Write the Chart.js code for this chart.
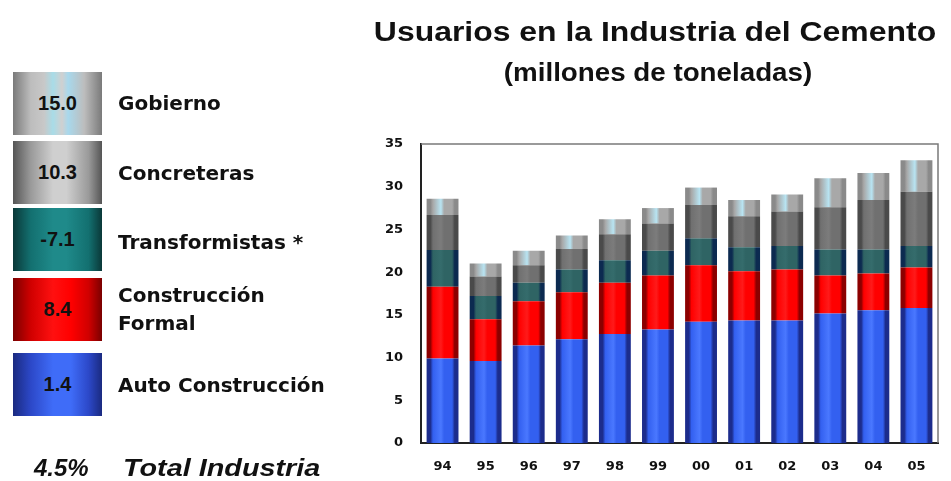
<!DOCTYPE html>
<html>
<head>
<meta charset="utf-8">
<script src="https://cdn.jsdelivr.net/npm/chart.js@4.4.1/dist/chart.umd.min.js"></script>
<style>
    body { margin: 0; background: #fff; }
    #wrap { position: relative; width: 951px; height: 481px; overflow: hidden; }
    #chart { position: absolute; left: 0; top: 0; }
    .title { position: absolute; width: 600px; text-align: center; font-family: "Liberation Sans", Arial, sans-serif; font-weight: bold; color: #111; line-height: 1; white-space: nowrap; }
    .box { position: absolute; left: 13px; width: 89px; height: 63px; display: flex; align-items: center; justify-content: center;
           font-family: "Liberation Sans", Arial, sans-serif; font-weight: bold; font-size: 20px; color: #111; box-sizing: border-box; }
    .lbl { position: absolute; left: 118px; font-family: "DejaVu Sans", Verdana, sans-serif; font-weight: bold; font-size: 20px; color: #111; line-height: 28px; white-space: nowrap; }
    .total { position: absolute; top: 454px; font-family: "Liberation Sans", Arial, sans-serif; font-weight: bold; font-style: italic; font-size: 24px; color: #111; line-height: 28px; white-space: nowrap; transform-origin: left center; }
</style>
</head>
<body>
<div id="wrap">
    <canvas id="chart" width="951" height="481"></canvas>
    <div class="title" style="left:355px; top:18px; font-size:28px; transform:scaleX(1.14);">Usuarios en la Industria del Cemento</div>
    <div class="title" style="left:358px; top:60px; font-size:25px; transform:scaleX(1.11);">(millones de toneladas)</div>
    <div id="legend"></div>
    <div class="total" style="left:34px;">4.5%</div>
    <div class="total" style="left:123px; transform:scaleX(1.2);">Total Industria</div>
</div>
<script>
// años
const years = ['94', '95', '96', '97', '98', '99', '00', '01', '02', '03', '04', '05'];
const yTicks = [0, 5, 10, 15, 20, 25, 30, 35];

// millones de toneladas por segmento
const autoConstruccion = [9.9, 9.6, 11.4, 12.15, 12.75, 13.3, 14.2, 14.35, 14.35, 15.15, 15.55, 15.8];
const construccionFormal = [8.4, 4.9, 5.2, 5.5, 6.0, 6.3, 6.6, 5.75, 5.95, 4.45, 4.3, 4.75];
const transformistas = [4.3, 2.7, 2.15, 2.65, 2.65, 2.9, 3.15, 2.8, 2.75, 3.05, 2.8, 2.5];
const concreteras = [4.1, 2.3, 2.05, 2.4, 3.05, 3.2, 3.9, 3.65, 4.05, 4.95, 5.8, 6.35];
const gobierno = [1.9, 1.5, 1.7, 1.6, 1.75, 1.8, 2.05, 1.9, 2.0, 3.4, 3.15, 3.7];

// crecimiento por segmento (leyenda)
const legendNames = ['Gobierno', 'Concreteras', 'Transformistas *', 'Construcción<br>Formal', 'Auto Construcción'];
const legendValues = ['15.0', '10.3', '-7.1', '8.4', '1.4'];

// colores: [borde, medio, centro]
const palettes = {
    auto: ['#1c2c8c', '#3360f0', '#4a78ff'],
    formal: ['#8c0000', '#ff0000', '#ff1a1a'],
    trans: ['#0c2a50', '#2f6464', '#356c6c'],
    conc: ['#4a4a4a', '#707070', '#7c7c7c'],
    gob: ['#8a8a8a', '#a8a8a8', '#b8e4f2']
};

const legendBoxes = [
    { top: 72, bg: 'linear-gradient(90deg,#7a7a7a 0%,#bdbdbd 20%,#c8c8c8 35%,#a8dce8 45%,#d0d0d0 55%,#a8d8ec 62%,#bdbdbd 80%,#7a7a7a 100%)' },
    { top: 141, bg: 'linear-gradient(90deg,#555 0%,#9a9a9a 20%,#cfcfcf 45%,#cfcfcf 60%,#9a9a9a 85%,#555 100%)' },
    { top: 208, bg: 'linear-gradient(90deg,#0a3838 0%,#137070 20%,#1f8a8a 45%,#1f8a8a 60%,#137070 85%,#0a3838 100%)' },
    { top: 278, bg: 'linear-gradient(90deg,#7a0000 0%,#d00000 20%,#ff1010 45%,#ff0000 65%,#d00000 85%,#7a0000 100%)' },
    { top: 353, bg: 'linear-gradient(90deg,#1a2a80 0%,#2c48c8 20%,#3f6cf8 45%,#3f6cf8 65%,#2c48c8 85%,#1a2a80 100%)' }
];
const labelTops = [89, 159, 228, 281, 371];

const legendEl = document.getElementById('legend');
legendBoxes.forEach((b, i) => {
    const box = document.createElement('div');
    box.className = 'box';
    box.style.top = b.top + 'px';
    box.style.background = b.bg;
    box.textContent = legendValues[i];
    legendEl.appendChild(box);
    const lbl = document.createElement('div');
    lbl.className = 'lbl';
    lbl.style.top = labelTops[i] + 'px';
    lbl.innerHTML = legendNames[i];
    legendEl.appendChild(lbl);
});

const BAR_PCT = 0.74;

function barFill(colors) {
    return function (ctx) {
        const chart = ctx.chart;
        if (!chart.chartArea) return colors[1];
        const xScale = chart.scales.x;
        const cx = xScale.getPixelForValue(ctx.dataIndex);
        const w = (chart.chartArea.width / years.length) * BAR_PCT;
        const g = chart.ctx.createLinearGradient(cx - w / 2, 0, cx + w / 2, 0);
        g.addColorStop(0, colors[0]);
        g.addColorStop(0.12, colors[0]);
        g.addColorStop(0.2, colors[1]);
        g.addColorStop(0.45, colors[2]);
        g.addColorStop(0.55, colors[1]);
        g.addColorStop(0.8, colors[1]);
        g.addColorStop(0.88, colors[0]);
        g.addColorStop(1, colors[0]);
        return g;
    };
}

// marco gris arriba y derecha
const frame = {
    id: 'frame',
    afterDraw(chart) {
        const { ctx, chartArea: a } = chart;
        ctx.save();
        ctx.strokeStyle = '#7a7a7a';
        ctx.lineWidth = 1.5;
        ctx.beginPath();
        ctx.moveTo(a.left, a.top);
        ctx.lineTo(a.right, a.top);
        ctx.lineTo(a.right, a.bottom);
        ctx.stroke();
        ctx.restore();
    }
};

function makeSet(label, data, colors) {
    return { label, data, backgroundColor: barFill(colors), borderWidth: 0, barPercentage: BAR_PCT, categoryPercentage: 1 };
}

new Chart(document.getElementById('chart'), {
    type: 'bar',
    data: {
        labels: years,
        datasets: [
            makeSet('Auto Construcción', autoConstruccion, palettes.auto),
            makeSet('Construcción Formal', construccionFormal, palettes.formal),
            makeSet('Transformistas', transformistas, palettes.trans),
            makeSet('Concreteras', concreteras, palettes.conc),
            makeSet('Gobierno', gobierno, palettes.gob)
        ]
    },
    options: {
        responsive: false,
        animation: false,
        layout: { padding: { left: 360, top: 144, right: 13, bottom: 8 } },
        plugins: { legend: { display: false }, tooltip: { enabled: false }, title: { display: false } },
        scales: {
            x: {
                stacked: true,
                grid: { display: false },
                border: { color: '#222', width: 2 },
                ticks: { color: '#111', font: { family: 'DejaVu Sans', weight: 'bold', size: 13 }, padding: 8 },
                afterFit(scale) { scale.height = 30; }
            },
            y: {
                stacked: true,
                min: 0,
                max: 35,
                afterBuildTicks(scale) { scale.ticks = yTicks.map(v => ({ value: v })); },
                grid: { display: false },
                border: { color: '#222', width: 2 },
                ticks: { color: '#111', font: { family: 'DejaVu Sans', weight: 'bold', size: 13 }, padding: 10 },
                afterFit(scale) { scale.width = 61; }
            }
        }
    },
    plugins: [frame]
});
</script>
</body>
</html>
